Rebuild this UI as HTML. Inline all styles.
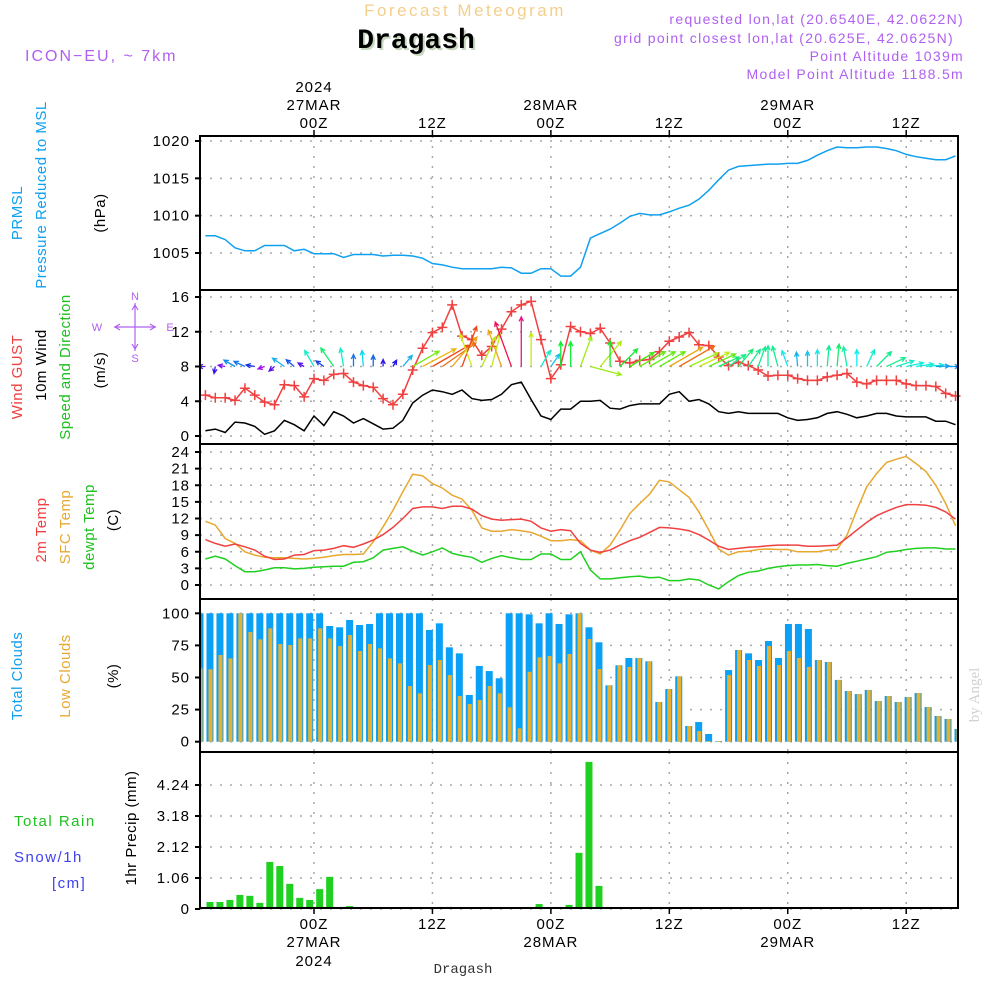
<!DOCTYPE html>
<html><head><meta charset="utf-8">
<style>
html,body{margin:0;padding:0;background:#fff;}
svg{display:block;font-family:"Liberation Sans",sans-serif;}
.tk{font-size:15px;letter-spacing:1px;fill:#000;}
</style></head>
<body>
<svg id="chart" width="1000" height="1000" viewBox="0 0 1000 1000">
<g id="hdr">
<text x="465" y="16" text-anchor="middle" font-size="17" fill="#f3cf8c" letter-spacing="2.5">Forecast Meteogram</text>
<text x="418" y="50" text-anchor="middle" font-size="28" font-weight="bold" font-family="Liberation Mono, monospace" fill="#c8d8c0">Dragash</text>
<text x="416" y="48" text-anchor="middle" font-size="28" font-weight="bold" font-family="Liberation Mono, monospace" fill="#000">Dragash</text>
<text x="25" y="61" font-size="16" fill="#b060f0" letter-spacing="2">ICON−EU, ~ 7km</text>
<text x="964" y="24" text-anchor="end" font-size="14" fill="#b060f0" letter-spacing="1.3">requested lon,lat (20.6540E, 42.0622N)</text>
<text x="954" y="43" text-anchor="end" font-size="14" fill="#b060f0" letter-spacing="1.3">grid point closest lon,lat (20.625E, 42.0625N)</text>
<text x="964" y="61" text-anchor="end" font-size="14" fill="#b060f0" letter-spacing="1.3">Point Altitude 1039m</text>
<text x="964" y="79" text-anchor="end" font-size="14" fill="#b060f0" letter-spacing="1.3">Model Point Altitude 1188.5m</text>
<text x="979" y="695" font-size="15" fill="#d0d0d0" font-family="Liberation Serif, serif" transform="rotate(-90 979 695)" text-anchor="middle">by Angel</text>
<text x="463" y="973" text-anchor="middle" font-size="14" font-family="Liberation Mono, monospace" fill="#333">Dragash</text>
<g stroke="#b060f0" stroke-width="1.2" fill="none">
<line x1="135" y1="303" x2="135" y2="351"/>
<line x1="114" y1="327" x2="156" y2="327"/>
<polyline points="132,310 135,305 138,310"/>
<polyline points="132,344 135,349 138,344"/>
<polyline points="120,324 115,327 120,330"/>
<polyline points="150,324 155,327 150,330"/>
</g>
<text x="135" y="300" text-anchor="middle" font-size="11" fill="#b060f0">N</text>
<text x="135" y="362" text-anchor="middle" font-size="11" fill="#b060f0">S</text>
<text x="97" y="331" text-anchor="middle" font-size="11" fill="#b060f0">W</text>
<text x="170" y="331" text-anchor="middle" font-size="11" fill="#b060f0">E</text>
</g>
</svg>
<script>
// ---- data (hourly from 27MAR 00Z -11h to +65h) ----
var pressure=[1007.3,1007.3,1006.8,1005.7,1005.3,1005.3,1006.0,1006.0,1006.0,1005.3,1005.5,1004.9,1004.9,1004.9,1004.4,1004.8,1004.8,1004.8,1004.6,1004.7,1004.7,1004.6,1004.3,1003.6,1003.4,1003.1,1002.9,1002.9,1002.9,1002.9,1003.1,1003.0,1002.3,1002.3,1002.9,1002.9,1001.9,1001.9,1003.1,1007.0,1007.6,1008.2,1009.0,1009.9,1010.3,1010.1,1010.1,1010.5,1011.0,1011.4,1012.2,1013.4,1014.8,1016.1,1016.6,1016.7,1016.8,1016.9,1016.9,1017.0,1017.0,1017.4,1018.1,1018.7,1019.2,1019.1,1019.1,1019.2,1019.2,1019.0,1018.7,1018.2,1017.9,1017.7,1017.5,1017.5,1018.0];
var gust=[4.7,4.4,4.4,4.1,5.5,4.7,3.9,3.6,5.9,5.8,4.5,6.6,6.4,7.1,7.2,6.2,5.8,5.6,4.3,3.6,4.8,7.6,10.1,11.9,12.5,15.1,11.5,11.1,9.3,10.3,12.3,14.3,15.1,15.5,11.1,6.6,8.2,12.6,12.0,11.8,12.4,10.7,8.6,8.4,8.7,8.8,9.7,10.9,11.4,11.9,10.5,10.4,9.1,8.1,8.5,8.1,7.6,6.9,7.0,7.0,6.6,6.4,6.4,6.8,7.0,7.2,6.2,6.0,6.4,6.4,6.4,6.0,5.8,5.8,5.7,4.9,4.6];
var wind=[0.6,0.8,0.4,1.6,1.5,1.1,0.2,0.6,1.8,1.3,0.6,2.3,1.2,2.8,2.3,1.5,2.0,1.4,0.8,0.9,1.8,3.8,4.7,5.3,5.1,4.8,5.3,4.3,4.1,4.2,4.8,5.9,6.2,4.2,2.3,1.9,3.1,3.1,4.0,4.0,4.1,3.2,3.1,3.5,3.7,3.7,3.7,4.8,5.1,4.0,4.2,3.7,2.8,2.6,2.8,2.6,2.6,2.6,2.6,2.1,1.8,1.9,2.1,2.6,2.8,2.5,2.1,2.3,2.6,2.6,2.3,2.2,2.2,2.2,1.7,1.7,1.3];
var windDir=[270,190,280,300,295,280,250,230,305,310,300,330,305,325,350,0,355,0,0,30,40,60,62,60,55,40,20,340,25,15,340,340,0,0,30,35,0,0,20,105,40,0,45,60,60,60,60,60,60,65,65,65,65,55,40,35,20,0,345,340,355,0,0,5,5,350,0,25,45,65,72,78,82,85,88,90,92];
var t2m=[8.2,7.5,7.0,7.4,6.9,6.3,5.2,4.6,4.7,5.4,5.5,6.2,6.3,6.6,7.1,6.8,7.4,8.1,9.1,10.4,12.0,13.8,14.1,14.1,13.8,14.2,14.2,13.7,12.5,11.9,11.7,11.8,11.9,11.5,10.3,9.7,10.0,9.8,7.5,6.3,5.9,6.3,7.2,8.0,8.6,9.5,10.4,10.3,10.1,9.8,9.1,8.1,7.0,6.4,6.6,6.8,6.9,7.1,7.2,7.2,7.2,7.0,7.0,7.1,7.2,8.5,9.9,11.3,12.5,13.3,14.0,14.5,14.5,14.4,14.0,13.2,11.9];
var tsfc=[11.5,10.8,8.4,7.5,6.0,5.4,5.0,4.9,4.9,4.8,4.7,4.8,5.0,5.3,5.5,5.5,5.6,7.8,10.5,13.5,16.8,20.0,19.7,18.3,17.5,16.2,15.5,13.5,10.3,9.7,9.7,10.0,9.8,9.5,8.8,8.0,8.0,8.2,8.0,6.3,5.6,7.2,9.9,12.9,14.7,16.4,18.9,18.6,17.2,15.8,13.2,9.9,6.5,5.4,6.0,6.1,6.4,6.5,6.4,6.4,6.0,6.0,6.0,6.3,6.4,9.0,13.5,17.7,20.1,22.1,22.7,23.2,21.9,20.5,18.0,14.7,10.7];
var dewpt=[4.7,5.2,4.7,3.5,2.4,2.4,2.7,3.1,3.1,2.9,3.0,3.2,3.3,3.4,3.4,4.1,4.2,4.9,6.3,6.6,6.9,6.1,5.4,6.0,6.7,5.7,5.3,5.0,4.1,4.8,5.3,4.9,4.6,4.6,5.6,5.6,4.6,4.6,6.0,2.7,1.1,1.1,1.3,1.5,1.6,1.3,1.4,0.8,0.8,1.1,0.9,0.0,-0.7,0.6,1.7,2.3,2.5,3.0,3.3,3.5,3.6,3.6,3.7,3.5,3.4,3.9,4.3,4.7,5.1,5.9,6.1,6.4,6.6,6.7,6.7,6.5,6.5];
var totalClouds=[100,100,100,100,100,100,100,100,100,100,100,100,100,90.1,89.1,94.8,90.9,91.7,100,100,100,100,100,87,92.2,73.5,68.8,36.4,59,55,49.4,100,100,99.2,92.2,100,91.7,99.2,100,89.1,77.4,43.9,59.5,65.2,65.2,62.6,30.9,41,50.9,12.2,15.3,6,0.5,55.8,71.4,68.8,63.6,78.4,65.2,91.7,91.7,87.8,63.6,62.1,48.1,39.5,37.1,40.3,31.7,35.6,30.9,34.8,37.9,27,20,17.7,9.9];
var lowClouds=[57.1,56.4,67.5,64.9,100,85.5,79.7,88.3,76.1,75.3,80.5,80.5,88.3,80.5,74.5,83.1,70.6,76.1,72.7,64.9,61,43.4,37.7,59.7,63.6,51.9,35.6,29.4,32.5,43.4,37.7,26.8,10.4,54.5,65.7,66.8,61,68.3,100,80,56.6,43.9,59.5,58.2,65.2,62.6,30.9,41,50.9,12.2,8.3,0.5,0.5,51.9,71.4,63.6,59,74.5,59.7,70.6,65.2,58.2,63.6,62.1,48.1,39.5,37.1,40.3,31.7,35.6,30.9,34.8,37.9,27,20,17.7,9.9];
var precip=[0,0.24,0.24,0.31,0.48,0.45,0.21,1.61,1.47,0.86,0.38,0.31,0.68,1.10,0.07,0.1,0,0,0,0,0,0,0,0,0.07,0.07,0,0,0,0,0,0,0,0,0.17,0.07,0.07,0.14,1.92,5.03,0.79,0,0,0,0,0,0,0,0,0,0,0,0,0,0,0,0,0,0,0,0,0,0,0,0,0,0,0,0,0,0,0,0,0,0,0,0];
var pTicks=[1005,1010,1015,1020];
var wTicks=[0,4,8,12,16];
var tTicks=[0,3,6,9,12,15,18,21,24];
var cTicks=[0,25,50,75,100];
var rTicks=[0,1.06,2.12,3.18,4.24];
var timeTicks=[0,12,24,36,48,60];
var timeLabels=["00Z","12Z","00Z","12Z","00Z","12Z"];
var dayLabels=["27MAR","","28MAR","","29MAR",""];
var startHour=-11;

// ---- scales ----
var X0=200,X1=958;
function xScale(h){return 314+(h)*9.87;}
function barX(i){return X0+i*(X1-X0)/(totalClouds.length-1);}
function lin(d0,d1,r0,r1){return function(v){return r0+(v-d0)*(r1-r0)/(d1-d0);};}
var panels=[
 {name:"pressure",top:136,bot:290,y:lin(1005,1020,253,141),ticks:pTicks,fmt:function(v){return ""+v;}},
 {name:"wind",top:290,bot:444,y:lin(0,16,436,297),ticks:wTicks,fmt:function(v){return ""+v;}},
 {name:"temperature",top:444,bot:599,y:lin(0,24,585,452),ticks:tTicks,fmt:function(v){return ""+v;}},
 {name:"clouds",top:599,bot:752,y:lin(0,100,741.7,613.3),ticks:cTicks,fmt:function(v){return ""+v;}},
 {name:"precip",top:752,bot:908,y:lin(0,1.06,909,878),ticks:rTicks,fmt:function(v){return v===0?"0":v.toFixed(2);}}
];
var NS="http://www.w3.org/2000/svg";
var svg=document.getElementById("chart");
function mk(tag,attrs,parent){var e=document.createElementNS(NS,tag);for(var k in attrs)e.setAttribute(k,attrs[k]);(parent||svg).appendChild(e);return e;}

var defs=mk("defs",{});
panels.forEach(function(p,i){
 var cp=mk("clipPath",{id:"clip"+i},defs);
 mk("rect",{x:X0,y:p.top,width:X1-X0,height:p.bot-p.top},cp);
});

panels.forEach(function(p,pi){
 var g=mk("g",{});
 
 
 p.ticks.forEach(function(v){
  var yy=p.y(v);
  var gl=mk("line",{x1:X0,x2:X1,y1:yy,y2:yy,stroke:"#a8a8a8","stroke-width":1.5,"stroke-dasharray":"2,8"},g);
  
  
  var tk=mk("line",{x1:X0-5,x2:X0,y1:yy,y2:yy,stroke:"#000","stroke-width":2},g);
  
  
  var t=mk("text",{x:X0-10,y:yy+5,"text-anchor":"end","class":"tk"},g);
  t.textContent=p.fmt(v);
  
  
 });
 timeTicks.forEach(function(h){
  var xx=xScale(h);
  var vl=mk("line",{x1:xx,x2:xx,y1:p.top,y2:p.bot,stroke:"#a8a8a8","stroke-width":1.5,"stroke-dasharray":"2,8"},g);
  
  
 });
});

var gc=mk("g",{"clip-path":"url(#clip3)"});


var pc=panels[3];
totalClouds.forEach(function(v,i){
 var xx=barX(i),y0=pc.y(0),y1=pc.y(v);
 var r=mk("rect",{x:xx-3.5,y:y1,width:7,height:y0-y1,fill:"#0aa0f5"},gc);
 
 
});
lowClouds.forEach(function(v,i){
 var xx=barX(i),y0=pc.y(0),y1=pc.y(v);
 var r=mk("rect",{x:xx-1.5,y:y1,width:4,height:y0-y1,fill:"#e8b030"},gc);
 
 
});
var gp=mk("g",{"clip-path":"url(#clip4)"});


var pp=panels[4];
precip.forEach(function(v,i){
 if(v<=0)return;
 var xx=barX(i),y0=pp.y(0),y1=pp.y(v);
 var r=mk("rect",{x:xx-3.5,y:y1,width:7,height:y0-y1,fill:"#20d020"},gp);
 
 
});

function line(arr,p,color,pi,name,w){
 var pts=arr.map(function(v,i){return xScale(startHour+i).toFixed(1)+","+p.y(v).toFixed(1);}).join(" ");
 var l=mk("polyline",{points:pts,fill:"none",stroke:color,"stroke-width":w||1.5,"clip-path":"url(#clip"+pi+")"});
 
 
 return l;
}
line(pressure,panels[0],"#10a0f0",0,"pressure-line");
line(wind,panels[1],"#000",1,"wind-speed-line");
line(gust,panels[1],"#f04040",1,"wind-gust-line");
gust.forEach(function(v,i){
 var xx=xScale(startHour+i),yy=panels[1].y(v);
 var m=mk("path",{d:"M"+(xx-5)+","+yy+"h10M"+xx+","+(yy-5)+"v10",stroke:"#f04040","stroke-width":1.5});
 
 
});
var ga=mk("g",{"clip-path":"url(#clip1)"});


windDir.forEach(function(d,i){
 var s=wind[i],xx=xScale(startHour+i),yy=panels[1].y(8);
 var L=Math.max(7,s*8),a=d*Math.PI/180;
 var ex=xx+L*Math.sin(a),ey=yy-L*Math.cos(a);
 var hue=((290-52*s)%360+360)%360;
 var c="hsl("+hue+",85%,50%)";
 var h1=a+Math.PI-0.45,h2=a+Math.PI+0.45;
 var d2="M"+xx+","+yy+"L"+ex+","+ey+"M"+(ex+5*Math.sin(h1))+","+(ey-5*Math.cos(h1))+"L"+ex+","+ey+"L"+(ex+5*Math.sin(h2))+","+(ey-5*Math.cos(h2));
 var ar=mk("path",{d:d2,stroke:c,"stroke-width":1.3,fill:"none"},ga);
 
 
});
line(tsfc,panels[2],"#e8a830",2,"sfc-temp-line");
line(t2m,panels[2],"#f04040",2,"2m-temp-line");
line(dewpt,panels[2],"#20d020",2,"dewpoint-line");

panels.forEach(function(p){
 var f=mk("rect",{x:X0,y:p.top,width:X1-X0,height:p.bot-p.top,fill:"none",stroke:"#000","stroke-width":2});
 
 
});
timeTicks.forEach(function(h,i){
 var xx=xScale(h);
 var t1=mk("line",{x1:xx,x2:xx,y1:130,y2:136,stroke:"#000","stroke-width":1.5});
 
 
 var t2=mk("line",{x1:xx,x2:xx,y1:908,y2:914,stroke:"#000","stroke-width":1.5});
 
 
 var a=mk("text",{x:xx,y:128,"text-anchor":"middle","class":"tk",fill:"#222"});
 a.textContent=timeLabels[i];
 
 
 var b=mk("text",{x:xx,y:929,"text-anchor":"middle","class":"tk"});
 b.textContent=timeLabels[i];
 
 
 if(dayLabels[i]){
  var c=mk("text",{x:xx,y:110,"text-anchor":"middle","class":"tk"});
  c.textContent=dayLabels[i];
  
  
  var d=mk("text",{x:xx,y:947,"text-anchor":"middle","class":"tk"});
  d.textContent=dayLabels[i];
  
  
 }
 if(i===0){
  var e=mk("text",{x:xx,y:92,"text-anchor":"middle","class":"tk"});
  e.textContent="2024";
  
  
  var f=mk("text",{x:xx,y:966,"text-anchor":"middle","class":"tk"});
  f.textContent="2024";
  
  
 }
});

var titles=[
 ["PRMSL",22,213,"#10a0f0","prmsl-title"],
 ["Pressure Reduced to MSL",46,195,"#10a0f0","pressure-title"],
 ["(hPa)",105,213,"#000","pressure-unit"],
 ["Wind GUST",22,377,"#f04040","gust-title"],
 ["10m Wind",46,365,"#000","wind-title"],
 ["Speed and Direction",70,367,"#20c020","direction-title"],
 ["(m/s)",105,370,"#000","wind-unit"],
 ["2m Temp",46,530,"#f04040","t2m-title"],
 ["SFC Temp",70,527,"#e8a830","sfc-title"],
 ["dewpt Temp",94,527,"#20c020","dewpt-title"],
 ["(C)",118,520,"#000","temp-unit"],
 ["Total Clouds",22,676,"#10a0f0","total-clouds-title"],
 ["Low Clouds",70,676,"#e8a830","low-clouds-title"],
 ["(%)",118,676,"#000","clouds-unit"],
 ["1hr Precip (mm)",136,828,"#000","precip-title"]
];
titles.forEach(function(t){
 var e=mk("text",{x:t[1],y:t[2],"text-anchor":"middle","font-size":15,"letter-spacing":"0.5",fill:t[3],transform:"rotate(-90 "+t[1]+" "+t[2]+")"});
 e.textContent=t[0];
 
 
});
var lg=[["Total  Rain",14,826,"#20c020","rain-legend"],["Snow/1h",14,862,"#4040f0","snow-legend"],["[cm]",52,888,"#4040f0","snow-unit"]];
lg.forEach(function(c){
 var e=mk("text",{x:c[1],y:c[2],"font-size":15,"letter-spacing":"1.5",fill:c[3]});
 e.textContent=c[0];
 
 
});
</script>
</body></html>
